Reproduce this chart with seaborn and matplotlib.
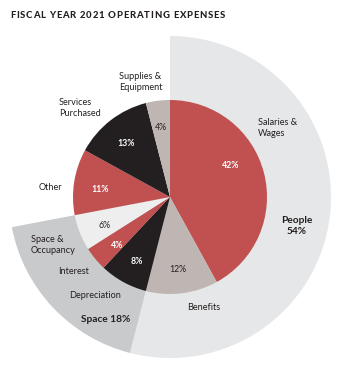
import matplotlib
matplotlib.use("Agg")
import matplotlib.pyplot as plt
import seaborn as sns
import numpy as np

# ---- data ----
categories = ["Salaries &\nWages", "Benefits", "Depreciation", "Interest",
              "Space &\nOccupancy", "Other", "Services\nPurchased", "Supplies &\nEquipment"]
values = [42, 12, 8, 4, 6, 11, 13, 4]
pct_labels = ["42%", "12%", "8%", "4%", "6%", "11%", "13%", "4%"]
groups = ["People", "Space", ""]
group_values = [54, 18, 28]
group_labels = ["People\n54%", "Space 18%", ""]
title = "FISCAL YEAR 2021 OPERATING EXPENSES"

# ---- style ----
sns.set_theme(style="white")
plt.rcParams["font.family"] = ["Lato", "DejaVu Sans"]

RED = "#c05150"
BLACK = "#231f20"
TAUPE = "#bfb5b3"
PALE = "#eeeeee"
inner_colors = [RED, TAUPE, BLACK, RED, PALE, RED, BLACK, TAUPE]
pct_colors = ["white", "#231f20", "white", "white", "#231f20", "white", "white", "#231f20"]
pct_bold = [True, False, True, True, False, True, True, False]
outer_colors = ["#e6e7e8", "#c9cacc", (1, 1, 1, 0)]

W, H = 337, 370
fig = plt.figure(figsize=(W / 100, H / 100), dpi=100)
ax = fig.add_axes([0, 0, 1, 1])

cx, cy = 170, H - 197
R_outer, R_inner = 161, 97

ax.pie(group_values, colors=outer_colors, startangle=90, counterclock=False,
       radius=R_outer, center=(cx, cy), wedgeprops=dict(linewidth=0), frame=True)
ax.pie(values, colors=inner_colors, startangle=90, counterclock=False,
       radius=R_inner, center=(cx, cy), wedgeprops=dict(linewidth=0), frame=True)
ax.set_xlim(0, W)
ax.set_ylim(0, H)
ax.set_aspect("equal")
ax.axis("off")

# percentage labels inside slices (pixel positions from top-left)
pct_pos = [(231, 166), (178, 270), (137, 261), (117, 245), (105, 225),
           (100, 189), (126, 143), (161, 127)]
for (x, y), t, c, b in zip(pct_pos, pct_labels, pct_colors, pct_bold):
    ax.text(x, H - y, t, color=c, fontsize=6.3, ha="center", va="center",
            fontweight="bold" if b else "normal")

# category labels
cat_pos = [(258, 128), (187, 307), (69, 295), (58, 271), (31, 245),
           (39, 188), (59, 108), (119, 82)]
for (x, y), t in zip(cat_pos, categories):
    ax.text(x, H - y, t, color="#231f20", fontsize=6.6, ha="left", va="center",
            linespacing=1.15)

# group labels
grp_pos = [(297, 226), (106, 319)]
for (x, y), t in zip(grp_pos, group_labels[:2]):
    ax.text(x, H - y, t, color="#231f20", fontsize=7.3, fontweight="bold",
            ha="center", va="center", linespacing=1.15)

# tracked (letter-spaced) title
renderer = fig.canvas.get_renderer()
tkw = dict(fontsize=6.8, fontweight="black", color="#231f20")


def text_width(s):
    t = fig.text(0, 0, s, **tkw)
    w = t.get_window_extent(renderer).width
    t.remove()
    return w


natural = text_width(title)
x_start, x_end = 10, 225
n = len(title)
track = (x_end - x_start - natural) / (n - 1)
for i, ch in enumerate(title):
    if ch == " ":
        continue
    left = text_width(title[:i + 1]) - text_width(ch)
    fig.text((x_start + left + i * track) / W, 1 - 16 / H, ch,
             ha="left", va="center", **tkw)

fig.savefig("out.png", dpi=100)
